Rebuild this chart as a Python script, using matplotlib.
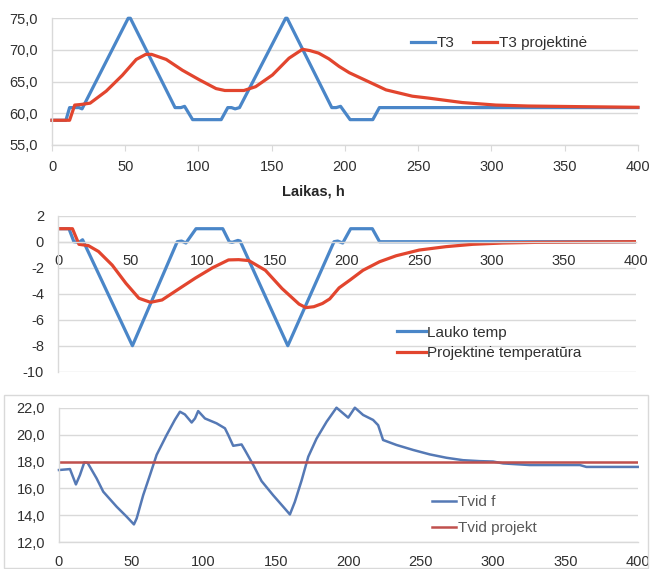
import numpy as np
import matplotlib
matplotlib.use("Agg")
import matplotlib.pyplot as plt
from matplotlib.patches import Rectangle
from matplotlib.ticker import FuncFormatter

plt.rcParams["font.family"] = ["Liberation Sans Narrow", "Liberation Sans", "DejaVu Sans"]
plt.rcParams["axes.unicode_minus"] = False

# --- top panel: T3 and design T3 ---
t3_h = [0, 9.5, 12, 18.5, 20.5, 52, 53.5, 84, 88, 90.5, 96, 115.5, 120, 122.5, 125, 128,
        159.5, 160.5, 191, 194, 197, 203.5, 219, 223.5, 400]
t3_val = [58.9, 58.9, 60.9, 60.9, 60.7, 75.0, 75.0, 60.9, 60.9, 61.1, 59.0, 59.0, 60.9, 60.9,
          60.7, 60.9, 75.0, 75.0, 60.9, 60.9, 61.1, 59.0, 59.0, 60.9, 60.9]

t3p_h = [0, 12, 15.5, 20, 26, 37, 48, 57.5, 64, 68, 78, 89, 100.5, 112, 118, 131, 139,
         150.5, 161.8, 171, 176, 182, 189, 196, 203, 216, 228, 246, 257, 280, 303, 325,
         360, 400]
t3p_val = [58.9, 58.9, 61.3, 61.4, 61.6, 63.5, 66.0, 68.5, 69.3, 69.3, 68.5, 66.8, 65.3,
           63.9, 63.6, 63.6, 64.2, 66.05, 68.7, 70.1, 69.9, 69.5, 68.6, 67.4, 66.4, 65.0,
           63.7, 62.7, 62.4, 61.7, 61.3, 61.15, 61.05, 60.95]

# --- middle panel: outdoor temp and design temp ---
lauko_h = [0, 7.6, 11, 14.5, 17, 51.5, 82.5, 85.5, 88.5, 95.5, 114, 118.5, 120.5, 124.5,
           126, 159, 191, 193.5, 197, 202.5, 217.5, 222.5, 400]
lauko_val = [1, 1, 0, -0.05, 0.15, -8, 0, 0.05, -0.1, 1, 1, 0, -0.05, 0.1, 0.05, -8, 0,
             0.05, -0.1, 1, 1, 0, 0]

proj_h = [0, 10, 14.5, 21, 28, 37.5, 47, 56, 64, 72, 84, 95, 107, 118, 125, 132, 143.5,
          155, 166.8, 171.5, 177, 183, 188, 194.5, 202, 211, 222.5, 234, 250, 268.5, 287,
          307.5, 331, 400]
proj_val = [1, 1, -0.2, -0.3, -0.75, -1.8, -3.2, -4.35, -4.66, -4.48, -3.6, -2.8, -2.0,
            -1.4, -1.38, -1.45, -2.2, -3.6, -4.8, -5.07, -5.0, -4.75, -4.4, -3.55, -2.95,
            -2.2, -1.54, -1.08, -0.64, -0.38, -0.2, -0.1, -0.05, 0]

# --- bottom panel: indoor temp ---
tvid_h = [0, 7.6, 11.7, 14.5, 17.5, 19.8, 26, 30.6, 39.9, 46.8, 51.8, 53.7, 58.2, 62.9,
          67.5, 74.4, 80.1, 83.6, 87, 91.7, 94, 96.2, 100.9, 108.9, 114.7, 117, 120.4,
          126.2, 128.5, 134.3, 140, 148, 155, 159.6, 163, 167.7, 172.3, 178, 185, 191.8,
          199.9, 204.5, 210.2, 217.1, 220.6, 224, 233.3, 244.8, 256.3, 267.8, 279.3,
          290.8, 300, 307, 325.4, 360, 364.5, 400]
tvid_val = [17.37, 17.44, 16.3, 17.0, 17.94, 17.9, 16.75, 15.76, 14.64, 13.9, 13.33,
            13.78, 15.5, 17.0, 18.5, 19.97, 21.1, 21.7, 21.5, 20.9, 21.2, 21.75, 21.2,
            20.84, 20.47, 19.97, 19.17, 19.27, 18.85, 17.74, 16.55, 15.5, 14.64, 14.07,
            15.0, 16.6, 18.36, 19.7, 20.96, 22.0, 21.26, 22.0, 21.46, 21.09, 20.7, 19.6,
            19.23, 18.86, 18.53, 18.28, 18.1, 18.03, 18.0, 17.86, 17.74, 17.74, 17.6, 17.6]
tvid_proj_h = [0, 400]
tvid_proj_val = [18.0, 18.0]

x_ticks = [0, 50, 100, 150, 200, 250, 300, 350, 400]

BLUE = "#4A86C8"
RED = "#E2452E"
BLUE2 = "#5579B5"
RED2 = "#C0504D"
GRID = "#D9D9D9"
TXT = "#303030"

fig = plt.figure(figsize=(6.51, 5.69), dpi=100)
ax1 = fig.add_axes([0.0799, 0.7452, 0.900, 0.2227])
ax2 = fig.add_axes([0.0891, 0.3467, 0.888, 0.2742])
ax3 = fig.add_axes([0.0906, 0.0469, 0.889, 0.2366])

comma = FuncFormatter(lambda v, p: f"{v:.1f}".replace(".", ","))


def style_axis(ax, yticks):
    ax.set_xlim(0, 400)
    ax.set_xticks(x_ticks)
    ax.set_yticks(yticks)
    ax.set_ylim(yticks[0], yticks[-1])
    ax.grid(axis="y", color=GRID, lw=1.0)
    ax.set_axisbelow(True)
    for s in ["top", "right"]:
        ax.spines[s].set_visible(False)
    for s in ["left", "bottom"]:
        ax.spines[s].set_color(GRID)
        ax.spines[s].set_linewidth(1.0)
    ax.tick_params(axis="y", length=0, pad=10, labelsize=10.5, labelcolor=TXT)
    ax.tick_params(axis="x", labelsize=10.5, labelcolor=TXT, color=GRID)


# top
style_axis(ax1, [55, 60, 65, 70, 75])
ax1.plot(t3_h, t3_val, color=BLUE, lw=2.3, label="T3", clip_on=False)
ax1.plot(t3p_h, t3p_val, color=RED, lw=2.3, label="T3 projektinė", clip_on=False)
ax1.yaxis.set_major_formatter(comma)
ax1.tick_params(axis="x", length=4, pad=7)
ax1.legend(loc="center left", bbox_to_anchor=(0.612, 0.805), ncol=2, frameon=False,
           fontsize=11, handlelength=1.6, handletextpad=0.1, columnspacing=1.2,
           borderpad=0, borderaxespad=0, labelcolor=TXT)
fig.text(0.481, 0.664, "Laikas, h", ha="center", va="center", fontsize=10.5,
         fontweight="bold", color="#262626")

# middle
style_axis(ax2, [-10, -8, -6, -4, -2, 0, 2])
ax2.spines["bottom"].set_position(("data", 0))
ax2.plot(lauko_h, lauko_val, color=BLUE, lw=2.3, label="Lauko temp")
ax2.plot(proj_h, proj_val, color=RED, lw=2.3, label="Projektinė temperatūra")
ax2.yaxis.set_major_formatter(FuncFormatter(lambda v, p: f"{v:.0f}"))
ax2.tick_params(axis="x", length=0, pad=9)
ax2.legend(loc="center left", bbox_to_anchor=(0.586, 0.185), frameon=False,
           fontsize=11, handlelength=1.9, handletextpad=0.1, labelspacing=0.4,
           borderpad=0, borderaxespad=0, labelcolor=TXT)

# bottom
style_axis(ax3, [12, 14, 16, 18, 20, 22])
ax3.plot(tvid_h, tvid_val, color=BLUE2, lw=1.8, label="Tvid f", clip_on=False)
ax3.plot(tvid_proj_h, tvid_proj_val, color=RED2, lw=1.8, label="Tvid projekt")
ax3.yaxis.set_major_formatter(comma)
ax3.tick_params(axis="x", length=0, pad=9)
ax3.legend(loc="center left", bbox_to_anchor=(0.644, 0.202), frameon=False,
           fontsize=11, handlelength=1.6, handletextpad=0.1, labelspacing=0.8,
           borderpad=0, borderaxespad=0, labelcolor="#595959")

# light frame around bottom chart
fig.patches.append(Rectangle((0.006, 0.002), 0.99, 0.304, transform=fig.transFigure,
                             fill=False, edgecolor=GRID, lw=1.0))

fig.savefig("out.png", dpi=100)
